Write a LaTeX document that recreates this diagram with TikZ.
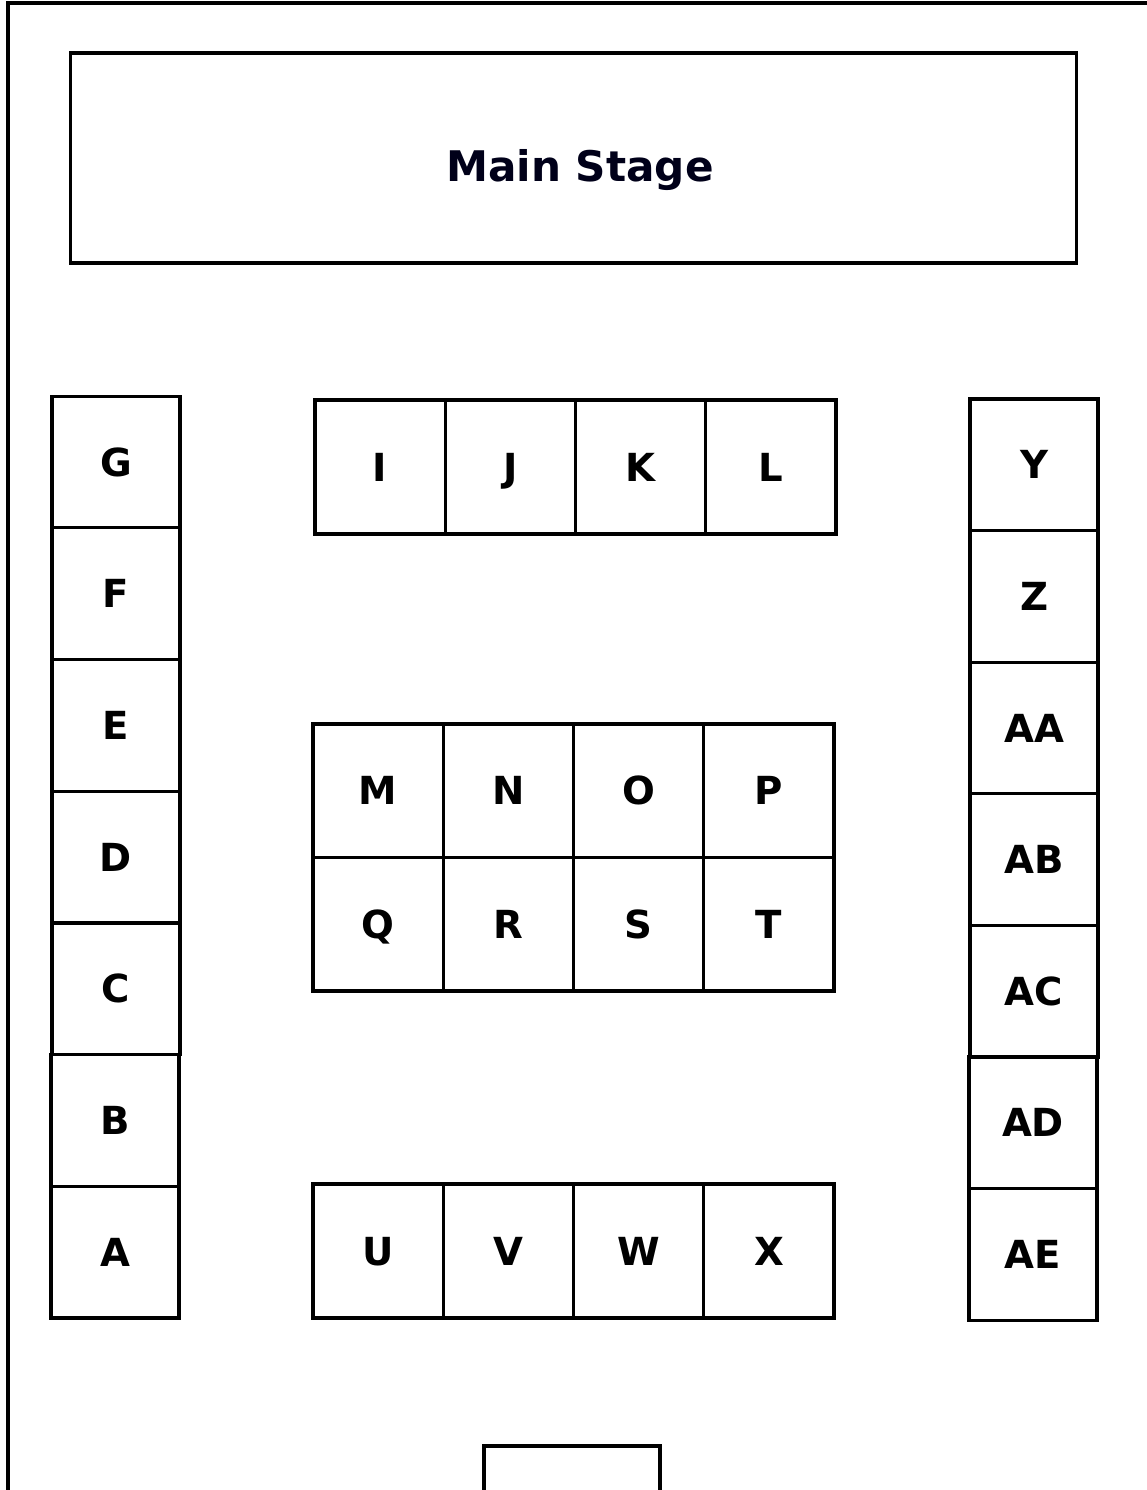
\documentclass[tikz,border=0pt]{standalone}
\usepackage{fontspec}
\setmainfont{DejaVu Sans}
\usetikzlibrary{positioning}

\tikzset{
	wall/.style={line width=1.8pt},
	stagebox/.style={shape=rectangle, draw, line width=1.8pt, minimum width=20.14cm, minimum height=4.2cm},
	stagetext/.style={anchor=center, inner sep=0pt, text height=17.5pt, text depth=0pt, font=\fontsize{24}{28}\selectfont\bfseries, text=black!90!blue},
	seat/.style={shape=rectangle, draw, line width=1.8pt, minimum width=2.56cm, minimum height=2.634cm, inner sep=0pt, text height=16pt, text depth=0pt, font=\fontsize{22}{26}\selectfont\bfseries},
	table/.style={shape=rectangle, draw, line width=1.8pt, minimum width=2.605cm, minimum height=2.67cm, inner sep=0pt, text height=16pt, text depth=0pt, font=\fontsize{22}{26}\selectfont\bfseries},
	doorbox/.style={line width=1.8pt}
}

\begin{document}
\begin{tikzpicture}[x=0.02cm, y=-0.02cm]
			\useasboundingbox (0, 0) rectangle (1146, 1490);
			% Walls and stage:
			\coordinate (wallbl) at (8, 1492);
			\coordinate (walltl) at (8, 3);
			\coordinate (walltr) at (1148, 3);
			\draw[wall] (wallbl) -- (walltl) -- (walltr);
			\node[stagebox] (stage) at (573.5, 158){} node[stagetext] (stagelabel) at (580, 166){Main Stage};
			% Left row:
			\node[seat] (G) at (116, 462){G};
			\node[seat] (F) at (116, 593.7){F};
			\node[seat] (E) at (116, 725.4){E};
			\node[seat] (D) at (116, 857.1){D};
			\node[seat] (C) at (116, 988.8){C};
			\node[seat] (B) at (115, 1120.5){B};
			\node[seat] (A) at (115, 1252.2){A};
			% Right row:
			\node[seat] (Y) at (1034, 464.8){Y};
			\node[seat] (Z) at (1034, 596.4){Z};
			\node[seat] (AA) at (1034, 728){AA};
			\node[seat] (AB) at (1034, 859.6){AB};
			\node[seat] (AC) at (1034, 991.2){AC};
			\node[seat] (AD) at (1033, 1122.8){AD};
			\node[seat] (AE) at (1033, 1254.4){AE};
			% Front tables:
			\node[table, minimum height=2.68cm] (I) at (380.1, 467){I};
			\node[table, minimum height=2.68cm] (J) at (510.4, 467){J};
			\node[table, minimum height=2.68cm] (K) at (640.6, 467){K};
			\node[table, minimum height=2.68cm] (L) at (770.9, 467){L};
			% Middle tables:
			\node[table] (M) at (378.1, 790.8){M};
			\node[table] (N) at (508.4, 790.8){N};
			\node[table] (O) at (638.6, 790.8){O};
			\node[table] (P) at (768.9, 790.8){P};
			\node[table] (Q) at (378.1, 924.3){Q};
			\node[table] (R) at (508.4, 924.3){R};
			\node[table] (S) at (638.6, 924.3){S};
			\node[table] (T) at (768.9, 924.3){T};
			% Back tables:
			\node[table, minimum height=2.68cm] (U) at (378.1, 1251){U};
			\node[table, minimum height=2.68cm] (V) at (508.4, 1251){V};
			\node[table, minimum height=2.68cm] (W) at (638.6, 1251){W};
			\node[table, minimum height=2.68cm] (X) at (768.9, 1251){X};
			% Door:
			\coordinate (doorl) at (484, 1492);
			\coordinate (doorr) at (660, 1492);
			\draw[doorbox] (doorl) |- (572, 1446) -| (doorr);
		\end{tikzpicture}
\end{document}
